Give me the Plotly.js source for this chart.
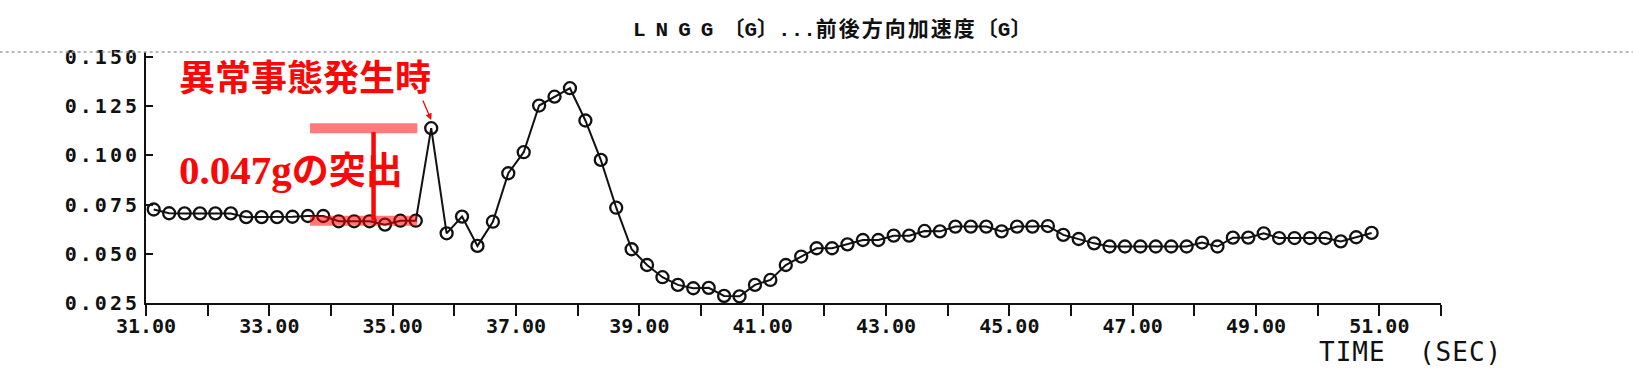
<!DOCTYPE html>
<html>
<head>
<meta charset="utf-8">
<script src="https://cdn.plot.ly/plotly-3.0.1.min.js"></script>
<style>
  html, body { margin: 0; padding: 0; background: #fff; }
  #chart { width: 1633px; height: 376px; }
  .ytick text { letter-spacing: 3px; }
</style>
</head>
<body>
<div id="chart"></div>
<script>
// ---- data ----
const timeSec = [
  31.125, 31.375, 31.625, 31.875, 32.125, 32.375, 32.625, 32.875,
  33.125, 33.375, 33.625, 33.875, 34.125, 34.375, 34.625, 34.875,
  35.125, 35.375, 35.625, 35.875, 36.125, 36.375, 36.625, 36.875,
  37.125, 37.375, 37.625, 37.875, 38.125, 38.375, 38.625, 38.875,
  39.125, 39.375, 39.625, 39.875, 40.125, 40.375, 40.625, 40.875,
  41.125, 41.375, 41.625, 41.875, 42.125, 42.375, 42.625, 42.875,
  43.125, 43.375, 43.625, 43.875, 44.125, 44.375, 44.625, 44.875,
  45.125, 45.375, 45.625, 45.875, 46.125, 46.375, 46.625, 46.875,
  47.125, 47.375, 47.625, 47.875, 48.125, 48.375, 48.625, 48.875,
  49.125, 49.375, 49.625, 49.875, 50.125, 50.375, 50.625, 50.875
];
const lnggG = [
  0.0725, 0.0706, 0.0705, 0.0705, 0.0705, 0.0705, 0.0686, 0.0686,
  0.0686, 0.0688, 0.0692, 0.0692, 0.0665, 0.0665, 0.0665, 0.0648,
  0.0668, 0.0668, 0.1138, 0.0604, 0.0689, 0.0540, 0.0663, 0.0909,
  0.1016, 0.1253, 0.1298, 0.1341, 0.1177, 0.0977, 0.0734, 0.0523,
  0.0443, 0.0381, 0.0342, 0.0325, 0.0327, 0.0286, 0.0284, 0.0342,
  0.0367, 0.0443, 0.0486, 0.0528, 0.0528, 0.0548, 0.0570, 0.0570,
  0.0592, 0.0592, 0.0616, 0.0614, 0.0638, 0.0638, 0.0638, 0.0614,
  0.0638, 0.0638, 0.0641, 0.0596, 0.0575, 0.0553, 0.0537, 0.0537,
  0.0537, 0.0537, 0.0537, 0.0537, 0.0557, 0.0537, 0.0582, 0.0582,
  0.0604, 0.0580, 0.0580, 0.0580, 0.0580, 0.0563, 0.0584, 0.0606
];
const yTickVals = [0.025, 0.050, 0.075, 0.100, 0.125, 0.150];
const yTickText = ['0.025', '0.050', '0.075', '0.100', '0.125', '0.150'];
const xTickVals = [31, 33, 35, 37, 39, 41, 43, 45, 47, 49, 51];
const xTickText = ['31.00', '33.00', '35.00', '37.00', '39.00', '41.00', '43.00', '45.00', '47.00', '49.00', '51.00'];
const titleText = '<span style="letter-spacing:10px">LNGG</span>〔G〕...<span style="letter-spacing:2px">前後方向加速度</span>〔G〕';
const eventLabel = '異常事態発生時';
const spikeLabel = '<span style="font-size:41px">0.047g</span>の突出';
const xAxisLabel = 'TIME  (SEC)';

// spike (event) sample and baseline sample just before it
const spikeIdx = 18;
const baseIdx = 17;
const spikePeak = lnggG[spikeIdx];
const spikeBase = lnggG[baseIdx];

const RED = 'rgb(250,8,8)';
const SALMON = 'rgba(255,0,0,0.52)';
const MONO = '"DejaVu Sans Mono", "Liberation Mono", monospace';

const trace = {
  x: timeSec, y: lnggG, type: 'scatter', mode: 'lines+markers',
  line: { color: '#111', width: 2 },
  marker: { symbol: 'circle-open', size: 12, color: '#111', line: { width: 2.3, color: '#111' } },
  hoverinfo: 'x+y', showlegend: false
};

const layout = {
  width: 1633, height: 376,
  margin: { l: 146, r: 192, t: 52, b: 73, pad: 0 },
  paper_bgcolor: '#fff', plot_bgcolor: '#fff',
  showlegend: false,
  title: {
    text: titleText,
    font: { family: '"Liberation Mono", "Noto Sans CJK JP", monospace', size: 21, color: '#111', weight: 'bold' },
    xref: 'container', yref: 'container',
    x: 633 / 1633, xanchor: 'left', y: 1 - 29 / 376, yanchor: 'middle'
  },
  xaxis: {
    range: [31, 52], showgrid: false, zeroline: false,
    showline: true, linecolor: '#111', linewidth: 2,
    tickmode: 'array', tickvals: xTickVals, ticktext: xTickText,
    ticks: 'outside', ticklen: 11, tickwidth: 2, tickcolor: '#111',
    minor: { tickmode: 'linear', tick0: 32, dtick: 2, ticks: 'outside', ticklen: 11, tickwidth: 2, tickcolor: '#111', showgrid: false },
    tickfont: { family: MONO, size: 20, color: '#111', weight: 'bold' },
    ticklabelstandoff: -7
  },
  yaxis: {
    range: [0.025, 0.1525], showgrid: false, zeroline: false,
    showline: true, linecolor: '#111', linewidth: 2,
    tickmode: 'array', tickvals: yTickVals, ticktext: yTickText,
    ticks: 'inside', ticklen: 7, tickwidth: 2, tickcolor: '#111',
    tickfont: { family: MONO, size: 20, color: '#111', weight: 'bold' },
    ticklabelstandoff: 0
  },
  shapes: [
    // printer header rule
    { type: 'line', xref: 'paper', yref: 'paper', x0: -0.113, x1: 1.148, y0: 1.0, y1: 1.0,
      line: { color: '#a0a0a0', width: 1.5, dash: 'dot' } },
    // highlight bars: spike peak and baseline
    { type: 'line', xref: 'x', yref: 'y', x0: 33.66, x1: 35.40, y0: spikePeak, y1: spikePeak,
      line: { color: SALMON, width: 10 } },
    { type: 'line', xref: 'x', yref: 'y', x0: 33.66, x1: 35.40, y0: spikeBase, y1: spikeBase,
      line: { color: SALMON, width: 10 } },
    // vertical span line
    { type: 'line', xref: 'x', yref: 'y', x0: 34.69, x1: 34.69, y0: spikePeak - 0.002, y1: spikeBase,
      line: { color: RED, width: 4.5 } }
  ],
  annotations: [
    { text: eventLabel, xref: 'x', yref: 'y', x: 31.5, y: 0.1388, xanchor: 'left', yanchor: 'middle',
      showarrow: false, font: { family: '"Liberation Serif", "Noto Sans CJK JP", serif', size: 36, color: RED, weight: 'bold' } },
    { text: spikeLabel, xref: 'x', yref: 'y', x: 31.5, y: 0.0926, xanchor: 'left', yanchor: 'middle',
      showarrow: false, font: { family: '"Liberation Serif", "Noto Sans CJK JP", serif', size: 37, color: RED, weight: 'bold' } },
    { text: '', xref: 'x', yref: 'y', x: timeSec[spikeIdx], y: spikePeak + 0.0042, ax: -9, ay: -21,
      showarrow: true, arrowhead: 2, arrowsize: 1, arrowwidth: 1.3, arrowcolor: RED, standoff: 0 },
    { text: '<span style="letter-spacing:1px">' + xAxisLabel + '</span>', xref: 'paper', yref: 'paper',
      x: (1317 - 146) / 1295, y: -0.195, xanchor: 'left', yanchor: 'middle', showarrow: false,
      font: { family: MONO, size: 26, color: '#111' } }
  ]
};

Plotly.newPlot('chart', [trace], layout, { displayModeBar: false, staticPlot: true });
</script>
</body>
</html>
